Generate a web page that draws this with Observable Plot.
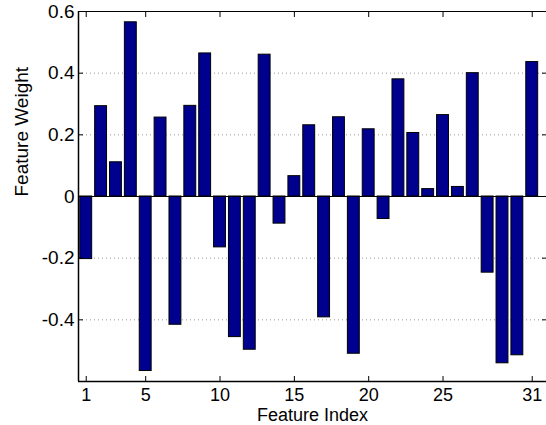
<!DOCTYPE html>
<html>
<head>
<meta charset="utf-8">
<script src="https://cdn.jsdelivr.net/npm/d3@7"></script>
<script src="https://cdn.jsdelivr.net/npm/@observablehq/plot@0.6"></script>
<style>
  html, body { margin: 0; padding: 0; background: #fff; }
</style>
</head>
<body>
<div id="chart"></div>
<script>
const featureIndex = d3.range(1, 32);
const featureWeight = [
  -0.203, 0.293, 0.111, 0.565, -0.566, 0.256, -0.416, 0.294, 0.464, -0.165,
  -0.456, -0.497, 0.460, -0.088, 0.066, 0.231, -0.392, 0.257, -0.510, 0.218,
  -0.073, 0.380, 0.206, 0.024, 0.264, 0.031, 0.400, -0.247, -0.541, -0.515,
  0.436
];
const xTicks = [1, 5, 10, 15, 20, 25, 31];
const yTicks = [-0.4, -0.2, 0, 0.2, 0.4, 0.6];
const yGrid = [-0.4, -0.2, 0.2, 0.4];
const xDomain = [0.48, 31.96];
const yDomain = [-0.6, 0.6];
const barHalfWidth = 0.4;

const data = featureIndex.map((i, k) => ({i, w: featureWeight[k]}));
const fmt = d => d === 0 ? "0" : String(d);

const chart = Plot.plot({
  width: 546,
  height: 425,
  marginLeft: 78,
  marginRight: 0,
  marginTop: 11,
  marginBottom: 44,
  style: {fontFamily: "'Liberation Sans', Arial, Helvetica, sans-serif", fontSize: "19px", background: "#fff", color: "#000"},
  x: {type: "linear", domain: xDomain},
  y: {domain: yDomain},
  marks: [
    Plot.ruleY(yGrid, {stroke: "#999", strokeWidth: 1, strokeDasharray: "1,3"}),
    Plot.rectY(data, {x1: d => d.i - barHalfWidth, x2: d => d.i + barHalfWidth, y: "w", fill: "rgb(0,0,143)", stroke: "#000", strokeWidth: 1}),
    Plot.ruleY([0], {stroke: "#000", strokeWidth: 1}),
    // frame lines
    Plot.ruleY([yDomain[0]], {stroke: "#000", strokeWidth: 1.5}),
    Plot.ruleY([yDomain[1]], {stroke: "#000", strokeWidth: 1}),
    Plot.ruleX([xDomain[0]], {stroke: "#000", strokeWidth: 1.5}),
    // tick labels
    Plot.axisX(xTicks, {anchor: "bottom", tickSize: 0, tickPadding: 7, tickFormat: d => String(d), fontSize: 18, label: null}),
    Plot.axisY(yTicks, {anchor: "left", tickSize: 0, tickPadding: 4, tickFormat: fmt, fontSize: 19, label: null}),
    // inward ticks
    Plot.axisX(xTicks, {anchor: "bottom", tickSize: -5, tickFormat: () => "", label: null}),
    Plot.axisX(xTicks, {anchor: "top", tickSize: -5, tickFormat: () => "", label: null}),
    Plot.axisY(yTicks, {anchor: "left", tickSize: -5, tickFormat: () => "", label: null}),
    Plot.axisY(yTicks, {anchor: "right", tickSize: -5, tickFormat: () => "", label: null}),
    // titles
    Plot.text(["Feature Index"], {frameAnchor: "bottom", dy: 34, lineAnchor: "middle", fontSize: 18}),
    Plot.text(["Feature Weight"], {frameAnchor: "left", dx: -57, rotate: -90, lineAnchor: "middle", fontSize: 19})
  ]
});
document.getElementById("chart").appendChild(chart);
</script>
</body>
</html>
